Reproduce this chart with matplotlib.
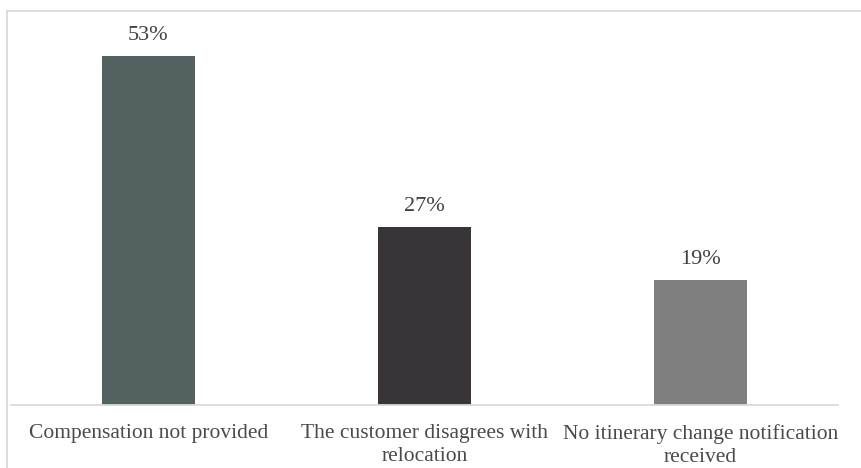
import matplotlib
matplotlib.use("Agg")
import matplotlib.pyplot as plt
from matplotlib.lines import Line2D

categories = ["Compensation not provided",
              "The customer disagrees with\nrelocation",
              "No itinerary change notification\nreceived"]
values = [53, 27, 19]
labels = ["53%", "27%", "19%"]
colors = ["#536261", "#383438", "#7f7f7f"]

plt.rcParams['font.family'] = ['Liberation Serif', 'DejaVu Serif']

W, H = 862, 468
fig = plt.figure(figsize=(W/100, H/100), dpi=100)
left, right, bottom, top = 10.5, 838.5, 405, 10
ax = fig.add_axes([left/W, 1 - bottom/H, (right-left)/W, (bottom-top)/H])
x = range(len(categories))
ax.bar(x, values, width=0.337, color=colors)
ax.set_xlim(-0.5, 2.5)
ax.set_ylim(0, 60)
for xi, v, lab in zip(x, values, labels):
    ax.annotate(lab, (xi, v), xytext=(0, 15), textcoords='offset points',
                ha='center', va='center', fontsize=16, color='#404040')
ax.set_xticks(list(x))
ax.set_xticklabels(categories, fontsize=15.5, color='#4a4a4a', linespacing=1.3)
ax.tick_params(axis='x', length=0, pad=13.5)
ax.set_yticks([])
for s in ['top', 'right', 'left']:
    ax.spines[s].set_visible(False)
ax.spines['bottom'].set_color('#d9d9d9')
ax.spines['bottom'].set_linewidth(1.3)

fig.add_artist(Line2D([7/W, 7/W], [0, 1 - 11/H], transform=fig.transFigure, color='#d9d9d9', lw=1.3))
fig.add_artist(Line2D([7/W, 1], [1 - 11/H, 1 - 11/H], transform=fig.transFigure, color='#d9d9d9', lw=1.3))

fig.savefig("out.png", dpi=100)
